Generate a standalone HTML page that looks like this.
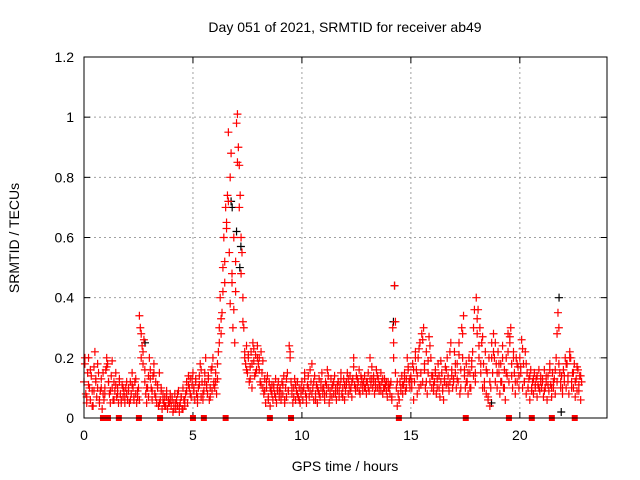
<!DOCTYPE html>
<html><head><meta charset="utf-8"><style>
body{margin:0;background:#fff}
svg{display:block;font-family:"Liberation Sans",sans-serif}
</style></head><body>
<svg id="chart" width="640" height="480" viewBox="0 0 640 480">
<rect width="640" height="480" fill="#fff"/>
<g id="grid"></g>
<g id="ticks"></g>
<g id="marks"></g>
<rect x="84" y="57" width="523" height="361" fill="none" stroke="#000" stroke-width="1"/>
<text x="345" y="32" font-size="14" text-anchor="middle">Day 051 of 2021, SRMTID for receiver ab49</text>
<text x="345" y="471" font-size="14" text-anchor="middle">GPS time / hours</text>
<text x="19" y="238" font-size="14" text-anchor="middle" transform="rotate(-90 19 238)">SRMTID / TECUs</text>
</svg>
<script>
const xTicks=[0,5,10,15,20];
const yTicks=[0,0.2,0.4,0.6,0.8,1,1.2];
const yTickLabels=["0","0.2","0.4","0.6","0.8","1","1.2"];
const hourRows=[
[.12,.18,.08,.05,.15,.2,.1,.06,.14,.09,.04,.17,.22,.12,.07,.1,.15,.05,.09,.13,.03,.08,.06,.1],
[.16,.2,.18,.12,.08,.05,.14,.1,.06,.12,.09,.15,.07,.1,.05,.12,.08,.06,.11,.07,.09,.05,.1,.08],
[.06,.1,.05,.12,.08,.15,.1,.06,.12,.08,.05,.07,.1,.34,.3,.2,.24,.18,.26,.12,.08,.05,.1,.14],
[.2,.16,.1,.06,.14,.18,.08,.12,.05,.1,.04,.15,.06,.1,.03,.08,.05,.07,.04,.09,.03,.06,.05,.08],
[.04,.07,.02,.05,.08,.03,.06,.04,.09,.02,.05,.07,.03,.1,.06,.04,.08,.12,.05,.14,.1,.13,.07,.11],
[.15,.1,.06,.12,.08,.05,.1,.14,.18,.07,.12,.06,.09,.15,.2,.11,.08,.13,.06,.1,.16,.09,.2,.12],
[.1,.15,.08,.13,.22,.3,.4,.28,.35,.5,.6,.45,.7,.65,.74,.95,.55,.38,.88,.45,.3,.6,.25,.42],
[.98,1.01,.9,.84,.74,.6,.55,.4,.3,.22,.18,.24,.15,.2,.12,.17,.22,.1,.25,.19,.14,.21,.16,.24],
[.18,.2,.12,.22,.15,.1,.08,.13,.05,.1,.14,.07,.12,.04,.09,.11,.06,.1,.08,.13,.05,.09,.12,.07],
[.1,.06,.12,.08,.14,.05,.1,.07,.15,.09,.24,.2,.12,.08,.05,.1,.13,.06,.09,.12,.07,.1,.05,.08],
[.12,.06,.1,.15,.08,.05,.11,.14,.07,.09,.12,.18,.1,.06,.14,.08,.11,.05,.09,.13,.07,.1,.15,.08],
[.1,.06,.12,.08,.16,.1,.05,.09,.13,.07,.11,.08,.14,.1,.06,.09,.12,.07,.11,.15,.08,.1,.13,.06],
[.09,.12,.15,.08,.11,.14,.1,.07,.13,.2,.11,.09,.14,.1,.12,.16,.08,.11,.13,.09,.12,.14,.1,.08],
[.12,.15,.09,.2,.11,.13,.1,.14,.08,.12,.16,.1,.13,.09,.11,.15,.12,.08,.1,.13,.11,.09,.07,.12],
[.1,.08,.12,.06,.3,.2,.44,.15,.1,.04,.08,.06,.12,.1,.14,.08,.11,.15,.09,.13,.2,.16,.12,.1],
[.14,.1,.18,.06,.12,.22,.16,.08,.2,.1,.25,.15,.28,.12,.3,.18,.1,.22,.08,.15,.27,.12,.2,.1],
[.14,.09,.12,.16,.08,.13,.18,.1,.07,.12,.15,.1,.06,.13,.17,.11,.2,.14,.09,.12,.25,.16,.1,.13],
[.22,.15,.1,.18,.12,.25,.08,.16,.3,.2,.34,.14,.1,.18,.12,.08,.2,.15,.1,.17,.22,.14,.36,.12],
[.4,.28,.36,.2,.3,.15,.25,.1,.18,.12,.22,.08,.15,.06,.2,.04,.1,.25,.15,.28,.2,.12,.18,.1],
[.22,.15,.08,.18,.12,.24,.1,.16,.06,.2,.14,.28,.12,.25,.3,.18,.1,.22,.15,.08,.2,.12,.17,.1],
[.2,.15,.26,.1,.18,.12,.22,.08,.15,.1,.13,.06,.16,.1,.12,.08,.15,.1,.13,.07,.11,.16,.09,.14],
[.1,.13,.07,.16,.1,.12,.06,.14,.09,.18,.11,.07,.15,.1,.13,.08,.2,.12,.35,.3,.15,.1,.14,.08],
[.16,.12,.2,.1,.18,.14,.08,.22,.2,.12,.15,.1,.18,.07,.13,.09,.16,.11,.14,.06,.12]
];
const hourRowsB=[
[.2,.07,.11,.16,.04,.09,.13,.18,.06,.1,.15,.08],
[.17,.12,.09,.19,.06,.11,.08,.13,.05,.1,.07,.12],
[.09,.06,.11,.07,.13,.09,.06,.28,.22,.16,.1,.07],
[.13,.09,.15,.07,.11,.05,.09,.06,.04,.07,.05,.06],
[.06,.03,.05,.08,.04,.07,.03,.06,.09,.11,.08,.13],
[.09,.13,.07,.11,.16,.08,.12,.1,.14,.07,.17,.11],
[.12,.18,.25,.33,.42,.52,.63,.72,.8,.48,.36,.52],
[.85,.7,.48,.32,.2,.16,.21,.13,.18,.23,.15,.2],
[.16,.11,.19,.09,.12,.06,.1,.08,.11,.07,.1,.09],
[.08,.11,.06,.13,.09,.22,.1,.07,.11,.08,.06,.1],
[.09,.13,.07,.1,.16,.08,.12,.06,.1,.08,.12,.1],
[.08,.11,.14,.07,.1,.12,.08,.11,.09,.13,.07,.11],
[.11,.13,.09,.12,.17,.1,.13,.09,.14,.11,.1,.12],
[.1,.13,.17,.12,.1,.14,.11,.09,.13,.1,.12,.1],
[.11,.07,.25,.32,.12,.06,.09,.11,.13,.1,.17,.13],
[.12,.16,.2,.14,.23,.11,.26,.16,.12,.19,.24,.14],
[.11,.15,.1,.14,.19,.09,.12,.16,.11,.22,.14,.12],
[.18,.13,.21,.1,.28,.16,.12,.15,.1,.19,.3,.15],
[.33,.24,.18,.27,.1,.16,.07,.12,.2,.22,.25,.15],
[.18,.12,.2,.1,.15,.22,.27,.14,.2,.12,.18,.14],
[.17,.23,.12,.18,.1,.14,.09,.13,.11,.14,.1,.12],
[.12,.09,.14,.11,.16,.1,.12,.16,.28,.18,.12,.1],
[.14,.18,.12,.2,.1,.15,.12,.17,.09,.14]
];
const blackTimes=[6.75,6.8,7.0,7.15,7.2,14.25,14.2,21.8,21.9,2.8,18.7];
const blackValues=[0.72,0.7,0.62,0.5,0.57,0.44,0.32,0.4,0.02,0.25,0.05];
const zeroTimes=[0.87,1.1,1.6,2.52,3.49,5.0,5.5,6.5,8.53,9.5,14.45,17.52,19.5,20.55,21.47,22.52];

const X0=84,X1=607,Y0=418,Y1=57;
function xs(h){return X0+(h/24)*(X1-X0);}
function ys(v){return Y0-(v/1.2)*(Y0-Y1);}
const NS="http://www.w3.org/2000/svg";
function mk(tag,attrs,parent){const e=document.createElementNS(NS,tag);for(const k in attrs)e.setAttribute(k,attrs[k]);parent.appendChild(e);return e;}
const grid=document.getElementById('grid'),ticks=document.getElementById('ticks'),marks=document.getElementById('marks');
yTicks.forEach((v,i)=>{
  const y=ys(v);
  if(v>0&&v<1.2){const g=mk('line',{x1:X0,x2:X1,y1:y,y2:y,stroke:'#a0a0a0','stroke-dasharray':'2,3'},grid);
  
  }
  mk('line',{x1:X0,x2:X0+6,y1:y,y2:y,stroke:'#000'},ticks);
  mk('line',{x1:X1-6,x2:X1,y1:y,y2:y,stroke:'#000'},ticks);
  const t=mk('text',{x:X0-10,y:y+5,'font-size':14,'text-anchor':'end'},ticks);
  t.textContent=yTickLabels[i];
  
  
});
xTicks.forEach(h=>{
  const x=xs(h);
  if(h>0){const g=mk('line',{x1:x,x2:x,y1:Y1,y2:Y0,stroke:'#a0a0a0','stroke-dasharray':'2,3'},grid);
  
  }
  mk('line',{x1:x,x2:x,y1:Y0,y2:Y0-6,stroke:'#000'},ticks);
  mk('line',{x1:x,x2:x,y1:Y1,y2:Y1+6,stroke:'#000'},ticks);
  const t=mk('text',{x:x,y:Y0+22,'font-size':14,'text-anchor':'middle'},ticks);
  t.textContent=String(h);
  
  
});
function plus(x,y,color,name){
  const p=mk('path',{d:`M${x-4} ${y}H${x+4}M${x} ${y-4}V${y+4}`,stroke:color,'stroke-width':1.2,fill:'none'},marks);
  
  
}
blackTimes.forEach((h,i)=>plus(xs(h),ys(blackValues[i]),'#000','black-point'));
hourRows.forEach((row,hr)=>{
  row.forEach((v,i)=>plus(xs(hr+i/24),ys(v),'#ff0000','red-point'));
});
hourRowsB.forEach((row,hr)=>{
  row.forEach((v,i)=>plus(xs(hr+(i+0.5)/12),ys(v),'#ff0000','red-point'));
});
zeroTimes.forEach(h=>{
  const r=mk('rect',{x:xs(h)-3,y:Y0-3,width:6,height:6,fill:'#ff0000'},marks);
  
  
});
</script>
</body></html>
